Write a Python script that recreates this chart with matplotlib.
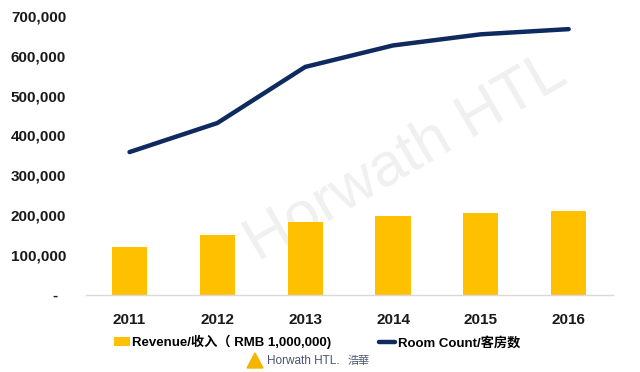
import matplotlib
matplotlib.use("Agg")
import matplotlib.pyplot as plt
from matplotlib.patches import Patch, Polygon
from matplotlib.lines import Line2D

years = ["2011", "2012", "2013", "2014", "2015", "2016"]
revenue = [120000, 149000, 182000, 197000, 206000, 211000]
rooms = [358000, 431000, 572000, 626000, 654000, 667000]
yticks = [0, 100000, 200000, 300000, 400000, 500000, 600000, 700000]
ytick_labels = ["-  ", "100,000", "200,000", "300,000", "400,000", "500,000", "600,000", "700,000"]

BAR = "#FFC000"
NAVY = "#0F2A5F"
FONT = ["Liberation Sans", "Noto Sans CJK SC", "DejaVu Sans"]
plt.rcParams["font.family"] = FONT

fig = plt.figure(figsize=(6.4, 3.72), dpi=100)
ax = fig.add_axes([85.6/640, 1 - 294.5/372, 527/640, (294.5-16)/372])

# watermark (behind the data)
ax.text(0.635, 0.575, "Horwath HTL", rotation=30, fontsize=44, color="#f0f0f0",
        ha="center", va="center", family=["Liberation Sans"], zorder=0,
        transform=fig.transFigure)

x = list(range(len(years)))
ax.bar(x, revenue, width=0.4, color=BAR, zorder=2)
ax.plot(x, rooms, color=NAVY, lw=3.2, solid_capstyle="round", solid_joinstyle="round", zorder=3)

ax.set_xlim(-0.5, len(years) - 0.5)
ax.set_ylim(0, 700000)
ax.set_yticks(yticks)
ax.set_yticklabels(ytick_labels)
ax.set_xticks(x)
ax.set_xticklabels(years)
ax.set_facecolor("none")
for s in ["top", "right", "left"]:
    ax.spines[s].set_visible(False)
ax.spines["bottom"].set_color("#d9d9d9")
ax.spines["bottom"].set_linewidth(1.0)
ax.tick_params(axis="both", length=0, labelsize=11)
ax.tick_params(axis="y", pad=14)
ax.tick_params(axis="x", pad=13)
for lab in ax.get_xticklabels() + ax.get_yticklabels():
    lab.set_fontweight("bold")
    lab.set_color("#1a1a1a")

handles = [Patch(facecolor=BAR, edgecolor="none"),
           Line2D([0], [0], color=NAVY, lw=3.2, solid_capstyle="round")]
labels = ["Revenue/收入（ RMB 1,000,000)", "Room Count/客房数"]
fig.legend(handles, labels, loc="center left", bbox_to_anchor=(114/640, 1 - 342/372),
           ncol=2, frameon=False, prop={"weight": "bold", "size": 9.5, "family": FONT},
           handlelength=1.2, handleheight=0.6, handletextpad=0.2, columnspacing=3.6,
           borderpad=0, borderaxespad=0)

# logo
tri = Polygon([[247/640, 1-368/372], [255/640, 1-353/372], [263/640, 1-368/372]],
              closed=True, transform=fig.transFigure, color="#F5B400")
fig.patches.append(tri)
fig.text(267/640, 1 - 361/372, "Horwath HTL.", fontsize=8.5, color="#4a5470",
         va="center", ha="left", family=["Liberation Sans"])
fig.text(348/640, 1 - 361/372, "浩華", fontsize=8, color="#4a5470",
         va="center", ha="left", family=["Noto Sans CJK TC"])

fig.savefig("out.png", dpi=100)
